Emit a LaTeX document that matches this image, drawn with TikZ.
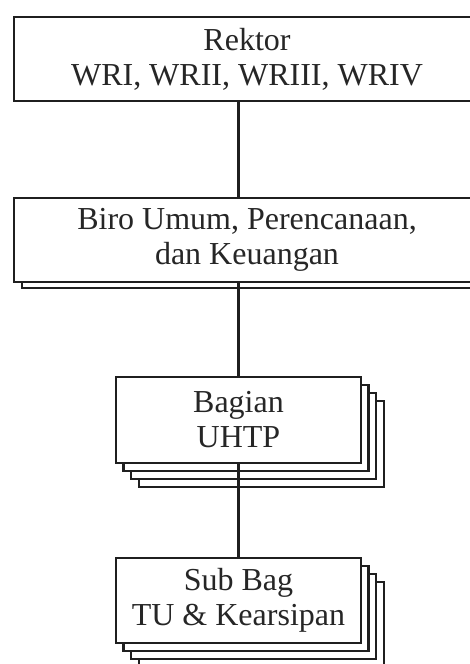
\documentclass[tikz,border=0pt]{standalone}
\usepackage{fontspec}
\setmainfont{Liberation Serif}
\begin{document}
\begin{tikzpicture}[x=1pt,y=-1pt,
  box/.style={draw=black!88, line width=2.5pt, fill=white, inner sep=0pt, align=center,
    font=\fontsize{32}{35}\selectfont, text=black!85},
  shad/.style={draw=black!88, line width=2.5pt, fill=white},
  link/.style={draw=black!88, line width=2.5pt}]
\useasboundingbox (0,0) rectangle (470,664);
\clip (0,0) rectangle (470,664);
% shadows
\draw[shad] (22,204) rectangle (488,288);
\foreach \k in {3,2,1} {
  \draw[shad] ({116+7.6*\k},{377+8*\k}) rectangle ({361+7.6*\k},{463+8*\k});
  \draw[shad] ({116+7.6*\k},{558+8*\k}) rectangle ({361+7.6*\k},{643+8*\k});
}
% main boxes
\node[box, minimum width=466pt, minimum height=84pt] (rektor) at (247,59) {Rektor\\WRI, WRII, WRIII, WRIV};
\node[box, minimum width=466pt, minimum height=84pt] (biro) at (247,240) {Biro Umum, Perencanaan,\\dan Keuangan};
\node[box, minimum width=245pt, minimum height=86pt] (bagian) at (238.5,420) {Bagian\\UHTP};
\node[box, minimum width=245pt, minimum height=85pt] (subbag) at (238.5,600.5) {Sub Bag\\TU \& Kearsipan};
% connectors
\draw[link] (bagian.north |- rektor.south) -- (bagian.north |- biro.north);
\draw[link] (bagian.north |- biro.south) -- (bagian.north);
\draw[link] (bagian.south) -- (subbag.north);
\end{tikzpicture}
\end{document}
